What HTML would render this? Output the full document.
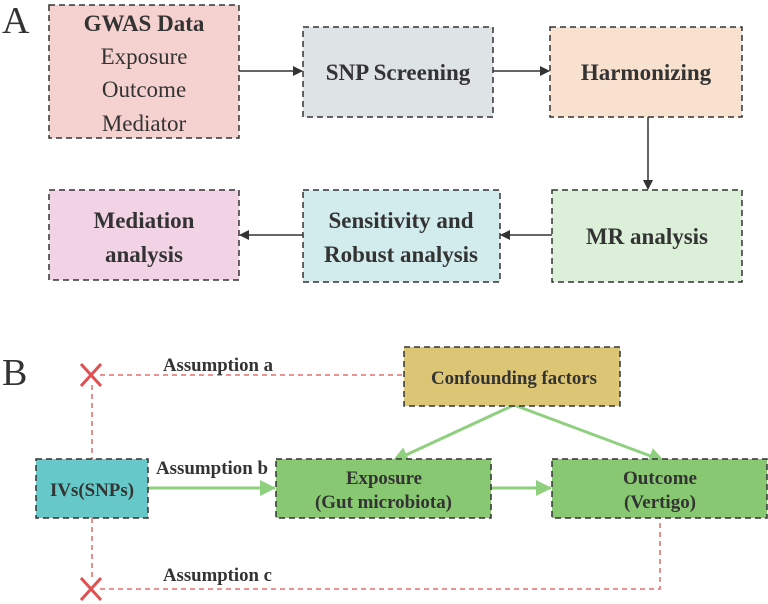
<!DOCTYPE html>
<html><head><meta charset="utf-8"><style>
html,body{margin:0;padding:0;background:#fff}
svg{display:block}
text{font-family:"Liberation Serif","DejaVu Serif",serif;fill:#333}
</style></head><body>
<svg width="768" height="604" viewBox="0 0 768 604">
<defs>
<marker id="ab" markerWidth="10" markerHeight="10" refX="9" refY="5" orient="auto" markerUnits="userSpaceOnUse"><path d="M0,0 L10,5 L0,10 Z" fill="#333"/></marker>
<marker id="ag" markerWidth="16" markerHeight="16" refX="15" refY="8" orient="auto" markerUnits="userSpaceOnUse"><path d="M0,0 L16,8 L0,16 Z" fill="#8fd07f"/></marker>
</defs>
<text font-family="Liberation Serif, serif" x="2" y="33" font-size="38">A</text>
<text font-family="Liberation Serif, serif" x="2" y="385" font-size="38">B</text>
<g stroke="#333" stroke-width="1.5" stroke-dasharray="6,4">
<rect x="49" y="5" width="190" height="133" fill="#f5d2d0"/>
<rect x="303" y="27" width="190" height="90" fill="#dee3e6"/>
<rect x="550" y="27" width="192" height="90" fill="#f9e1d0"/>
<rect x="552" y="190" width="190" height="92" fill="#dcefd8"/>
<rect x="303" y="190" width="197" height="92" fill="#d2ebec"/>
<rect x="49" y="190" width="190" height="90" fill="#f2d3e5"/>
</g>
<g stroke="#333" stroke-width="1.5" fill="none">
<path d="M239,71 H302" marker-end="url(#ab)"/>
<path d="M493,71 H549" marker-end="url(#ab)"/>
<path d="M648,117 V189" marker-end="url(#ab)"/>
<path d="M552,235 H501" marker-end="url(#ab)"/>
<path d="M303,235 H240" marker-end="url(#ab)"/>
</g>
<g font-family="Liberation Serif, serif" font-size="23" text-anchor="middle">
<text x="144" y="31" font-weight="bold">GWAS Data</text>
<text x="144" y="64">Exposure</text>
<text x="144" y="97">Outcome</text>
<text x="144" y="131">Mediator</text>
<text x="398" y="80" font-weight="bold">SNP Screening</text>
<text x="646" y="80" font-weight="bold">Harmonizing</text>
<text x="647" y="244" font-weight="bold">MR analysis</text>
<text x="401" y="228" font-weight="bold">Sensitivity and</text>
<text x="401" y="262" font-weight="bold">Robust analysis</text>
<text x="144" y="228" font-weight="bold">Mediation</text>
<text x="144" y="262" font-weight="bold">analysis</text>
</g>
<g stroke="#e05050" stroke-width="1.3" stroke-dasharray="5,4" fill="none">
<path d="M100,375 H404"/>
<path d="M92,385 V459"/>
<path d="M92,518 V580"/>
<path d="M100,589 H660 V518"/>
</g>
<g stroke="#e05050" stroke-width="3">
<path d="M81,364 L101,386 M101,364 L81,386"/>
<path d="M81,578 L101,600 M101,578 L81,600"/>
</g>
<g stroke="#8fd07f" stroke-width="3" fill="none">
<path d="M514,405 L393,461" marker-end="url(#ag)"/>
<path d="M514,405 L664,461" marker-end="url(#ag)"/>
<path d="M148,488 H275" marker-end="url(#ag)"/>
<path d="M491,488 H551" marker-end="url(#ag)"/>
</g>
<g stroke="#333" stroke-width="1.5" stroke-dasharray="6,4">
<rect x="404" y="347" width="216" height="59" fill="#dcc675"/>
<rect x="36" y="459" width="112" height="59" fill="#66c8c8"/>
<rect x="276" y="459" width="215" height="59" fill="#88c872"/>
<rect x="552" y="459" width="215" height="59" fill="#88c872"/>
</g>
<g font-family="Liberation Serif, serif" font-size="19" font-weight="bold" lengthAdjust="spacingAndGlyphs">
<text x="163" y="371" textLength="110" lengthAdjust="spacingAndGlyphs">Assumption a</text>
<text x="156" y="474" textLength="112" lengthAdjust="spacingAndGlyphs">Assumption b</text>
<text x="163" y="581" textLength="109" lengthAdjust="spacingAndGlyphs">Assumption c</text>
<text x="431" y="384" textLength="166" lengthAdjust="spacingAndGlyphs">Confounding factors</text>
<text x="50" y="496" textLength="84" lengthAdjust="spacingAndGlyphs">IVs(SNPs)</text>
<text x="346" y="484" textLength="76" lengthAdjust="spacingAndGlyphs">Exposure</text>
<text x="315" y="508" textLength="137" lengthAdjust="spacingAndGlyphs">(Gut microbiota)</text>
<text x="623" y="484" textLength="74" lengthAdjust="spacingAndGlyphs">Outcome</text>
<text x="624" y="508" textLength="72" lengthAdjust="spacingAndGlyphs">(Vertigo)</text>
</g>
</svg>
</body></html>
